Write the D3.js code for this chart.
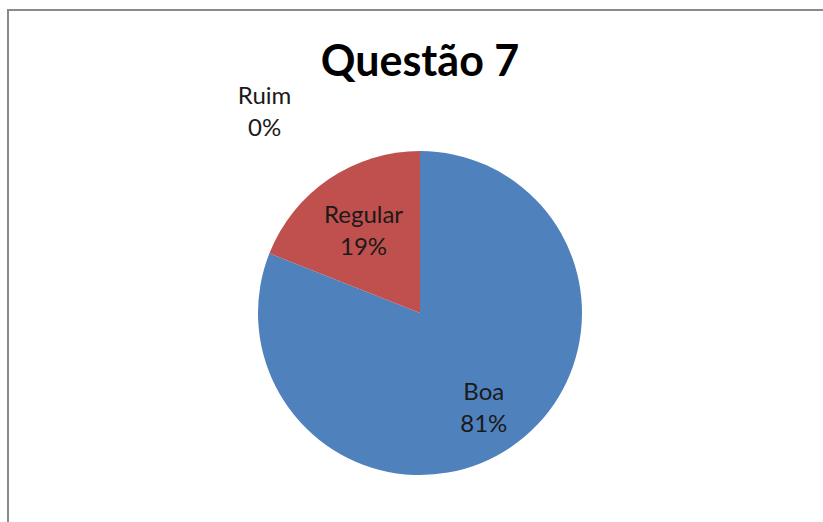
<!DOCTYPE html>
<meta charset="utf-8">
<style>
body { margin: 0; background: #fff; }
text { font-family: 'Lato', 'Open Sans', sans-serif; fill: #000; }
.title { font-size: 43px; font-weight: bold; }
.lbl { font-size: 24px; fill: #1a1a1a; }
</style>
<svg width="823" height="522"></svg>
<script src="https://d3js.org/d3.v7.min.js"></script>
<script>

var categories = ["Boa", "Regular", "Ruim"],
    values = [81, 19, 0],
    pctLabels = ["81%", "19%", "0%"],
    colors = ["#4f81bd", "#c0504d", "#9bbb59"];

var svg = d3.select("svg"),
    width = +svg.attr("width"),
    height = +svg.attr("height"),
    cx = 420,
    cy = 313,
    radius = 162;

// chart frame (runs off the right and bottom edges)
svg.append("rect")
    .attr("x", 8).attr("y", 10)
    .attr("width", width + 20).attr("height", height + 20)
    .attr("fill", "#fff")
    .attr("stroke", "#8a8a8a")
    .attr("stroke-width", 2);

svg.append("text")
    .attr("class", "title")
    .attr("x", cx).attr("y", 76)
    .attr("text-anchor", "middle")
    .text("Questão 7");

var pie = d3.pie().sort(null).value(function(d) { return d; });
var arcs = pie(values);

var arc = d3.arc().innerRadius(0).outerRadius(radius);

var g = svg.append("g").attr("transform", "translate(" + cx + "," + cy + ")");

g.selectAll("path")
  .data(arcs)
  .enter().append("path")
    .attr("d", arc)
    .attr("fill", function(d, i) { return colors[i]; });

// label radius as a fraction of the pie radius; zero slices go outside
function labelPos(d, i) {
  var a, r;
  if (d.value === 0) {
    a = d.startAngle - 0.655;
    r = radius * 1.575;
  } else {
    a = (d.startAngle + d.endAngle) / 2;
    r = radius * (i === 0 ? 0.7 : 0.62);
  }
  return [Math.sin(a) * r, -Math.cos(a) * r];
}

var lbl = g.selectAll("g.label")
  .data(arcs)
  .enter().append("g")
    .attr("class", "label")
    .attr("transform", function(d, i) { return "translate(" + labelPos(d, i) + ")"; });

lbl.append("text")
    .attr("class", "lbl")
    .attr("text-anchor", "middle")
    .attr("y", -7)
    .text(function(d, i) { return categories[i]; });

lbl.append("text")
    .attr("class", "lbl")
    .attr("text-anchor", "middle")
    .attr("y", 25)
    .text(function(d, i) { return pctLabels[i]; });

</script>
